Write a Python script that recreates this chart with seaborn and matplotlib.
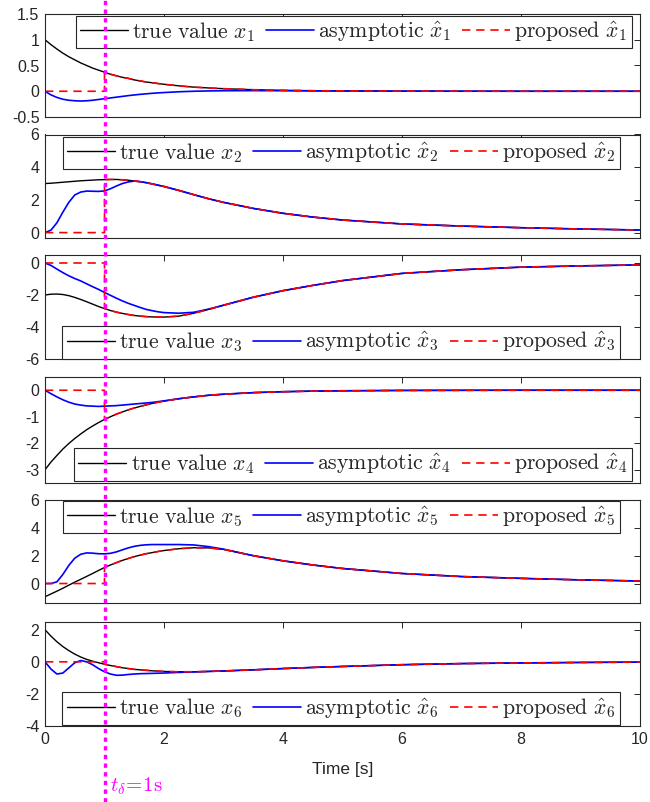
import numpy as np
import matplotlib
matplotlib.use("Agg")
import matplotlib.pyplot as plt
import matplotlib.transforms as mtransforms
from matplotlib.lines import Line2D
import seaborn as sns

# time grid shared by all states
t = [0, 0.1, 0.2, 0.3, 0.4, 0.5, 0.6, 0.7, 0.8, 0.9, 1.0, 1.1, 1.2, 1.3, 1.4, 1.5,
     1.6, 1.7, 1.8, 1.9, 2.0, 2.25, 2.5, 2.75, 3, 3.5, 4, 4.5, 5, 6, 7, 8, 9, 10]
t_delta = 1.0

# true values
x1 = [1.0, .905, .82, .74, .67, .61, .55, .50, .45, .41, .37, .33, .30, .27, .25, .22,
      .20, .18, .165, .15, .135, .105, .08, .064, .05, .03, .018, .011, .007, .0025, .001, 0, 0, 0]
x2 = [3.0, 3.02, 3.05, 3.08, 3.11, 3.14, 3.17, 3.19, 3.21, 3.23, 3.24, 3.25, 3.25, 3.23, 3.2, 3.16,
      3.11, 3.05, 2.98, 2.9, 2.82, 2.58, 2.32, 2.07, 1.85, 1.48, 1.18, 0.95, 0.77, 0.53, 0.4, 0.3, 0.22, 0.16]
x3 = [-2.0, -1.95, -1.94, -1.97, -2.04, -2.15, -2.28, -2.42, -2.57, -2.72, -2.85, -2.97, -3.07, -3.15,
      -3.22, -3.28, -3.32, -3.35, -3.37, -3.38, -3.38, -3.32, -3.14, -2.9, -2.64, -2.14, -1.73, -1.4,
      -1.1, -0.65, -0.42, -0.26, -0.18, -0.12]
x4 = [-3.0, -2.71, -2.46, -2.22, -2.01, -1.82, -1.65, -1.49, -1.35, -1.22, -1.1, -1.0, -0.9, -0.82,
      -0.74, -0.67, -0.61, -0.55, -0.5, -0.45, -0.41, -0.32, -0.25, -0.19, -0.15, -0.09, -0.055,
      -0.033, -0.02, -0.007, -0.003, 0, 0, 0]
x5 = [-0.95, -0.75, -0.55, -0.34, -0.12, 0.1, 0.3, 0.51, 0.72, 0.94, 1.15, 1.33, 1.5, 1.66, 1.8, 1.93,
      2.04, 2.14, 2.22, 2.3, 2.37, 2.5, 2.57, 2.56, 2.45, 2.0, 1.63, 1.33, 1.08, 0.72, 0.5, 0.37, 0.26, 0.18]
x6 = [2.0, 1.6, 1.25, 0.95, 0.7, 0.48, 0.3, 0.15, 0.04, -0.06, -0.15, -0.23, -0.3, -0.37, -0.42, -0.47,
      -0.5, -0.53, -0.56, -0.58, -0.6, -0.62, -0.62, -0.6, -0.57, -0.5, -0.42, -0.35, -0.29, -0.18,
      -0.11, -0.07, -0.04, -0.02]

# asymptotic observer estimates
xa1 = [0, -.07, -.12, -.155, -.175, -.185, -.19, -.185, -.175, -.16, -.145, -.13, -.115, -.1, -.085,
       -.072, -.06, -.05, -.04, -.032, -.025, -.01, 0.0, .006, .01, .012, .01, .007, .005, .002, .001, 0, 0, 0]
xa2 = [0, 0.15, 0.6, 1.25, 1.85, 2.3, 2.48, 2.54, 2.53, 2.52, 2.55, 2.68, 2.85, 3.0, 3.1, 3.15,
       3.12, 3.06, 2.98, 2.9, 2.82, 2.58, 2.32, 2.07, 1.85, 1.48, 1.18, 0.95, 0.77, 0.53, 0.4, 0.3, 0.22, 0.16]
xa3 = [0, -0.15, -0.38, -0.6, -0.8, -0.97, -1.12, -1.3, -1.48, -1.65, -1.84, -2.02, -2.2, -2.37, -2.52,
       -2.65, -2.78, -2.9, -2.98, -3.05, -3.1, -3.14, -3.08, -2.88, -2.64, -2.14, -1.73, -1.4, -1.1,
       -0.65, -0.42, -0.26, -0.18, -0.12]
xa4 = [0, -0.13, -0.25, -0.36, -0.45, -0.52, -0.56, -0.59, -0.6, -0.61, -0.6, -0.59, -0.58, -0.56,
       -0.54, -0.52, -0.5, -0.48, -0.46, -0.43, -0.4, -0.32, -0.25, -0.19, -0.15, -0.09, -0.055,
       -0.033, -0.02, -0.007, -0.003, 0, 0, 0]
xa5 = [0, 0.0, 0.12, 0.65, 1.3, 1.82, 2.1, 2.2, 2.18, 2.14, 2.13, 2.17, 2.27, 2.42, 2.56, 2.67,
       2.74, 2.78, 2.8, 2.8, 2.8, 2.8, 2.77, 2.65, 2.47, 2.0, 1.63, 1.33, 1.08, 0.72, 0.5, 0.37, 0.26, 0.18]
xa6 = [0, -0.45, -0.76, -0.7, -0.38, -0.06, 0.08, 0.0, -0.18, -0.42, -0.62, -0.76, -0.84, -0.83,
       -0.79, -0.76, -0.74, -0.73, -0.72, -0.71, -0.7, -0.66, -0.63, -0.6, -0.57, -0.5, -0.42, -0.35,
       -0.29, -0.18, -0.11, -0.07, -0.04, -0.02]

true_vals = [x1, x2, x3, x4, x5, x6]
asym_vals = [xa1, xa2, xa3, xa4, xa5, xa6]

ylims = [(-0.5, 1.5), (-0.33, 6), (-6, 0.5), (-3.5, 0.5), (-1.4, 6), (-4, 2.5)]
yticks = [[-0.5, 0, 0.5, 1, 1.5], [0, 2, 4, 6], [-6, -4, -2, 0], [-3, -2, -1, 0], [0, 2, 4, 6], [-4, -2, 0, 2]]
ytick_labels = [["-0.5", "0", "0.5", "1", "1.5"], ["0", "2", "4", "6"], ["-6", "-4", "-2", "0"],
                ["-3", "-2", "-1", "0"], ["0", "2", "4", "6"], ["-4", "-2", "0", "2"]]

sns.set_theme(style="white")
plt.rcParams["font.family"] = ["Liberation Sans", "DejaVu Sans"]
plt.rcParams["mathtext.fontset"] = "cm"
plt.rcParams["axes.unicode_minus"] = False

W, H = 650, 802
fig = plt.figure(figsize=(W / 100, H / 100), dpi=100)

# axes boxes in pixels (top, bottom)
boxes = [(14, 117), (134.5, 238), (255, 359), (377, 483), (500, 603), (621.7, 726)]
left_px, right_px = 45, 640
# legend anchors: loc, right edge px, y edge px
leg_pos = [("upper right", 632, 15.5), ("upper right", 620, 136.5), ("lower right", 620, 358.5),
           ("lower right", 632, 480.5), ("upper right", 620, 500.5), ("lower right", 620, 725)]

t_arr = np.array(t)
axes = []
for i in range(6):
    top, bot = boxes[i]
    ax = fig.add_axes([left_px / W, 1 - bot / H, (right_px - left_px) / W, (bot - top) / H])
    axes.append(ax)
    xt = np.array(true_vals[i])
    xa = np.array(asym_vals[i])
    before = t_arr <= t_delta
    after = t_arr >= t_delta
    prop_t = np.concatenate([t_arr[before], t_arr[after]])
    prop_y = np.concatenate([np.zeros(before.sum()), xt[after]])

    n = i + 1
    sns.lineplot(x=t_arr, y=xt, ax=ax, color="black", lw=1.0, estimator=None, sort=False,
                 label=r"$\mathrm{true\ value}\ x_{%d}$" % n)
    sns.lineplot(x=t_arr, y=xa, ax=ax, color="#0000FF", lw=1.2, estimator=None, sort=False,
                 label=r"$\mathrm{asymptotic}\ \hat{x}_{%d}$" % n)
    sns.lineplot(x=prop_t, y=prop_y, ax=ax, color="#FF0000", lw=1.2, estimator=None, sort=False,
                 label=r"$\mathrm{proposed}\ \hat{x}_{%d}$" % n)
    ax.lines[-1].set_dashes((5, 3.5))

    ax.set_xlim(0, 10)
    ax.set_ylim(*ylims[i])
    ax.set_yticks(yticks[i])
    ax.set_yticklabels(ytick_labels[i])
    ax.set_xticks([0, 2, 4, 6, 8, 10])
    ax.tick_params(direction="in", top=True, right=True, length=4, width=0.7,
                   colors="#262626", labelsize=11.5, pad=4)
    if i < 5:
        ax.set_xticklabels([])
    for s in ax.spines.values():
        s.set_color("#262626")
        s.set_linewidth(0.8)
    ax.set_ylabel("")

    loc, rx, ry = leg_pos[i]
    leg = ax.legend(loc=loc, bbox_to_anchor=(rx / W, 1 - ry / H), bbox_transform=fig.transFigure,
                    ncol=3, fontsize=15.7, frameon=True, fancybox=False, framealpha=1,
                    borderaxespad=0, borderpad=0.2, handlelength=2.2, handletextpad=0.2,
                    columnspacing=0.5)
    leg.get_frame().set_edgecolor("#262626")
    leg.get_frame().set_linewidth(0.8)

axes[-1].set_xlabel("Time [s]", fontsize=12.5, color="#262626", labelpad=11)

# switching instant marker across the whole figure
trans = mtransforms.blended_transform_factory(axes[0].transData, fig.transFigure)
fig.add_artist(Line2D([t_delta, t_delta], [0, 1], transform=trans, color="#FF00FF",
                      lw=2.4, linestyle=(0, (1.3, 1.3)), zorder=10))
fig.text(110 / W, 1 - 786 / H, r"$t_{\delta}\!=\!1\mathrm{s}$", color="#FF00FF",
         fontsize=15, va="center", ha="left")

fig.savefig("out.png", dpi=100)
